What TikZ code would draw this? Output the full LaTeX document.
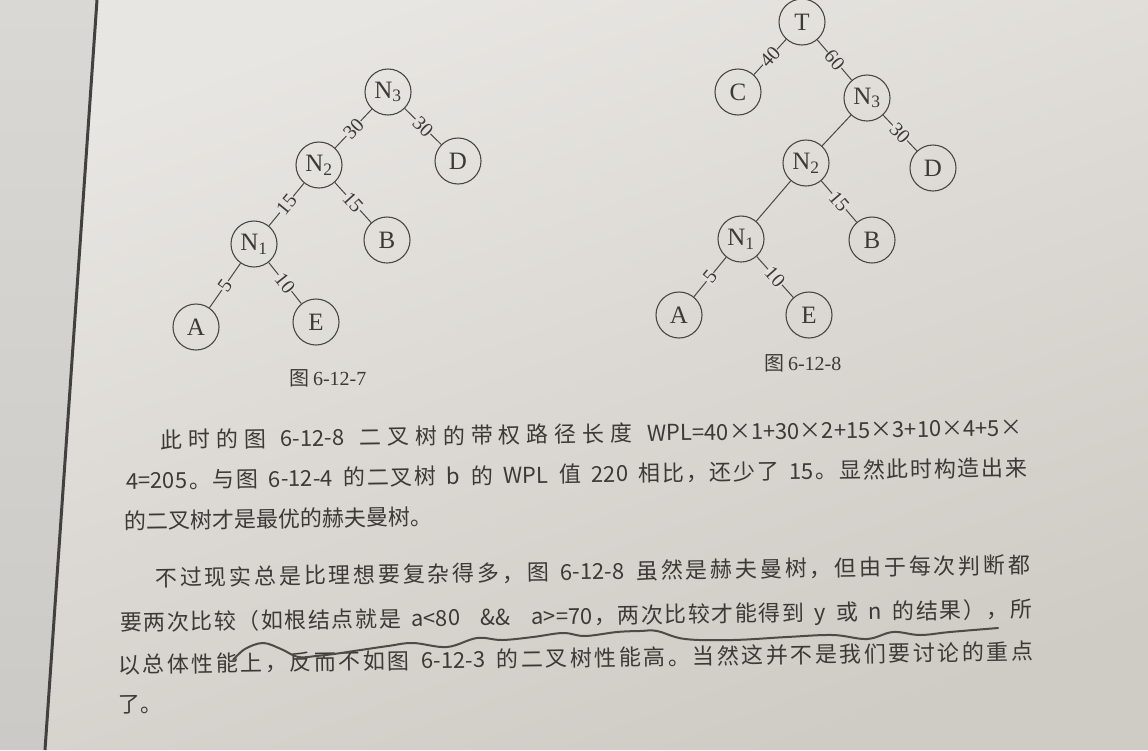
\documentclass[tikz,border=0pt]{standalone}
\usepackage{fontspec}
\setmainfont{Liberation Serif}
\newfontfamily\cjk{Noto Sans CJK SC}
\newcommand{\cjkgap}{\hskip 0pt plus 1fil\relax}
\newcommand{\bodyfont}{\cjk\fontsize{22}{22}\selectfont\spaceskip=8.8pt plus 1fil\relax}
\newXeTeXintercharclass\zhcls
\makeatletter
\count@="3000
\loop\ifnum\count@<"A000 \XeTeXcharclass\count@=\zhcls \advance\count@ by 1 \repeat
\count@="FF00
\loop\ifnum\count@<"FFF0 \XeTeXcharclass\count@=\zhcls \advance\count@ by 1 \repeat
\makeatother
\XeTeXinterchartoks\zhcls\zhcls={\cjkgap}
\XeTeXinterchartoks\zhcls 0={\cjkgap}
\XeTeXinterchartoks 0\zhcls={\cjkgap}
\XeTeXinterchartokenstate=1
\definecolor{ink}{HTML}{3C3A37}
\definecolor{treeline}{HTML}{4A4846}
\definecolor{pagebg}{HTML}{E3E1DD}
\definecolor{pagetop}{HTML}{E8E6E2}
\definecolor{pagebot}{HTML}{CFCBC5}
\definecolor{outtop}{HTML}{DAD8D5}
\definecolor{outbot}{HTML}{CCCAC6}
\definecolor{pencil}{HTML}{4E4B47}
\begin{document}
\begin{tikzpicture}[x=1pt,y=-1pt,
  tn/.style={circle,draw=treeline,line width=1.1pt,minimum size=46pt,inner sep=0pt,
             font=\fontsize{25}{25}\selectfont,text=ink},
  wl/.style={midway,sloped,fill=pagebg,inner sep=0.4pt,
             font=\fontsize{20}{20}\selectfont,text=ink},
  tedge/.style={draw=treeline,line width=1pt},
  bodyline/.style={anchor=west,inner sep=0pt,rotate=0.85,text=ink,font=\bodyfont},
  capt/.style={inner sep=0pt,text=ink,font=\fontsize{20}{20}\selectfont}]
\useasboundingbox (0,0) rectangle (1148,750);
\clip (0,0) rectangle (1148,750);
% background: outside page and page
\shade[top color=outtop,bottom color=outbot] (0,0) -- (97,0) -- (45,750) -- (0,750) -- cycle;
\shade[top color=pagetop,bottom color=pagebot,shading angle=20] (97,0) -- (1148,0) -- (1148,750) -- (45,750) -- cycle;
\draw[line width=3pt,color=treeline!90!black] (97,0) -- (45,750);

% ---------- left tree (6-12-7)
\node[tn] (lN3) at (388,92) {N\textsubscript{3}};
\node[tn] (lN2) at (319,165) {N\textsubscript{2}};
\node[tn] (lD)  at (458,161) {D};
\node[tn] (lN1) at (254,244) {N\textsubscript{1}};
\node[tn] (lB)  at (387,240) {B};
\node[tn] (lA)  at (196,327) {A};
\node[tn] (lE)  at (316,322) {E};
\draw[tedge] (lN3) -- node[wl] {30} (lN2);
\draw[tedge] (lN3) -- node[wl] {30} (lD);
\draw[tedge] (lN2) -- node[wl] {15} (lN1);
\draw[tedge] (lN2) -- node[wl] {15} (lB);
\draw[tedge] (lN1) -- node[wl] {5} (lA);
\draw[tedge] (lN1) -- node[wl] {10} (lE);
\node[capt] (cap1) at (328,378) {{\cjk 图}\,6-12-7};

% ---------- right tree (6-12-8)
\node[tn] (rT)  at (802,22)  {T};
\node[tn] (rC)  at (738,92)  {C};
\node[tn] (rN3) at (867,98)  {N\textsubscript{3}};
\node[tn] (rN2) at (806,163) {N\textsubscript{2}};
\node[tn] (rD)  at (933,168) {D};
\node[tn] (rN1) at (741,239) {N\textsubscript{1}};
\node[tn] (rB)  at (872,240) {B};
\node[tn] (rA)  at (679,315) {A};
\node[tn] (rE)  at (809,315) {E};
\draw[tedge] (rT) -- node[wl] {40} (rC);
\draw[tedge] (rT) -- node[wl] {60} (rN3);
\draw[tedge] (rN3) -- (rN2);
\draw[tedge] (rN3) -- node[wl] {30} (rD);
\draw[tedge] (rN2) -- (rN1);
\draw[tedge] (rN2) -- node[wl] {15} (rB);
\draw[tedge] (rN1) -- node[wl] {5} (rA);
\draw[tedge] (rN1) -- node[wl] {10} (rE);
\node[capt] (cap2) at (803,363) {{\cjk 图}\,6-12-8};

% ---------- body text
\node[bodyline] (t1) at (160,440) {\hbox to 862pt{此时的图 6-12-8 二叉树的带权路径长度 WPL=40×1+30×2+15×3+10×4+5×}};
\node[bodyline] (t2) at (126,481) {\hbox to 901pt{4=205。与图 6-12-4 的二叉树 b 的 WPL 值 220 相比，还少了 15。显然此时构造出来}};
\node[bodyline] (t3) at (124,521) {的二叉树才是最优的赫夫曼树。};
\node[bodyline] (t4) at (155,578) {\hbox to 875pt{不过现实总是比理想要复杂得多，图 6-12-8 虽然是赫夫曼树，但由于每次判断都}};
\node[bodyline] (t5) at (120,624) {\hbox to 912pt{要两次比较（如根结点就是 a<80 \ \&\& \ a>=70，两次比较才能得到 y 或 n 的结果），所}};
\node[bodyline] (t6) at (118,665) {\hbox to 915pt{以总体性能上，反而不如图 6-12-3 的二叉树性能高。当然这并不是我们要讨论的重点}};
\node[bodyline] (t7) at (118,705) {了。};

% ---------- pencil wavy underline
\draw[pencil,line width=2pt,line cap=round,line join=round]
  plot[smooth,tension=0.6] coordinates {(233,660) (245,649) (263,643) (281,649) (298,657)
   (316,656) (334,654) (354,651) (388,646) (413,643) (447,647) (477,638) (502,640)
   (533,637) (563,633) (585,636) (617,632) (640,631) (657,631) (685,639) (733,640)
   (787,637) (833,635) (867,639) (893,632) (920,635) (950,632) (998,628)};
\end{tikzpicture}
\end{document}
